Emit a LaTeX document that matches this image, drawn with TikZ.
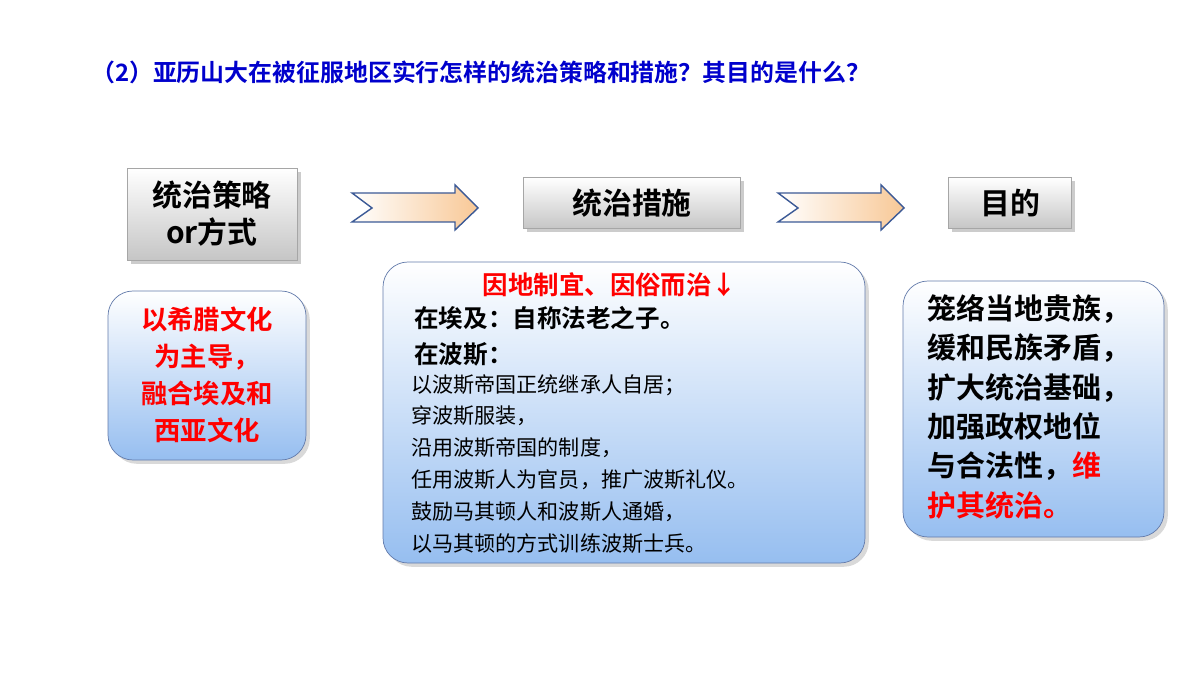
\documentclass[tikz,border=0pt]{standalone}
\usepackage{fontspec}
\newfontfamily\cjk{Noto Sans CJK SC}
\newfontfamily\cjkb{Noto Sans CJK SC Bold}
\usetikzlibrary{shadows}
\definecolor{titleblue}{RGB}{0,0,204}
\definecolor{boxblue}{RGB}{150,190,240}
\definecolor{arrowfill}{RGB}{248,200,150}
\definecolor{arrowline}{RGB}{60,90,150}
\tikzset{
  headbox/.style={draw=gray!70,top color=white,bottom color=gray!45,
    drop shadow={opacity=0.4},font=\cjkb\fontsize{17}{21}\selectfont,align=center,inner sep=0pt},
  softbox/.style={draw=arrowline!80,rounded corners=5mm,top color=white,bottom color=boxblue,
    drop shadow={opacity=0.3}},
  chevron/.style={draw=arrowline,thick,left color=white,right color=arrowfill}
}
\begin{document}
\begin{tikzpicture}[x=0.02cm,y=-0.02cm]
    \useasboundingbox (0,0) rectangle (1200,675);
    \node[anchor=west,text=titleblue,font=\cjkb\fontsize{13.6}{16}\selectfont] (title) at (85,72)
      {（2）亚历山大在被征服地区实行怎样的统治策略和措施？其目的是什么？};
    % header boxes
    \node[headbox,minimum width=3.4cm,minimum height=1.84cm] (mode) at (212,214) {统治策略\\or方式};
    \node[headbox,minimum width=4.34cm,minimum height=1.02cm] (measure) at (632,203) {统治措施};
    \node[headbox,minimum width=2.46cm,minimum height=1.02cm] (aim) at (1010,203) {目的};
    % arrows
    \foreach \ax in {352,778}{
      \draw[chevron] (\ax,193) -- (\ax+103,193) -- (\ax+103,185) -- (\ax+126,208)
        -- (\ax+103,230) -- (\ax+103,222) -- (\ax,222) -- (\ax+20,208) -- cycle;
    }
    % content boxes
    \draw[softbox] (108,291) rectangle (306,460);
    \node[text=red,font=\cjkb\fontsize{15}{21}\selectfont,align=center] (culture) at (207,375)
      {以希腊文化\\为主导，\\融合埃及和\\西亚文化};
    \draw[softbox] (383,262) rectangle (865,563);
    \node[text=red,font=\cjkb\fontsize{14.5}{18}\selectfont] (policy) at (610,285) {因地制宜、因俗而治↓};
    \node[anchor=west,font=\cjkb\fontsize{14}{18}\selectfont] (egypt) at (408,318) {在埃及：自称法老之子。};
    \node[anchor=west,font=\cjkb\fontsize{14}{18}\selectfont] (persia) at (408,354) {在波斯：};
    \node[anchor=north west,font=\cjk\fontsize{12}{18.1}\selectfont,align=left,inner sep=0pt] (detail) at (411,374)
      {以波斯帝国正统继承人自居；\\穿波斯服装，\\沿用波斯帝国的制度，\\任用波斯人为官员，推广波斯礼仪。\\鼓励马其顿人和波斯人通婚，\\以马其顿的方式训练波斯士兵。};
    \draw[softbox] (903,281) rectangle (1164,537);
    \node[anchor=north west,font=\cjkb\fontsize{16.5}{22.4}\selectfont,align=left,inner sep=0pt] (goal) at (927,294)
      {笼络当地贵族，\\缓和民族矛盾，\\扩大统治基础，\\加强政权地位\\与合法性，\textcolor{red}{维}\\\textcolor{red}{护其统治。}};
\end{tikzpicture}
\end{document}
